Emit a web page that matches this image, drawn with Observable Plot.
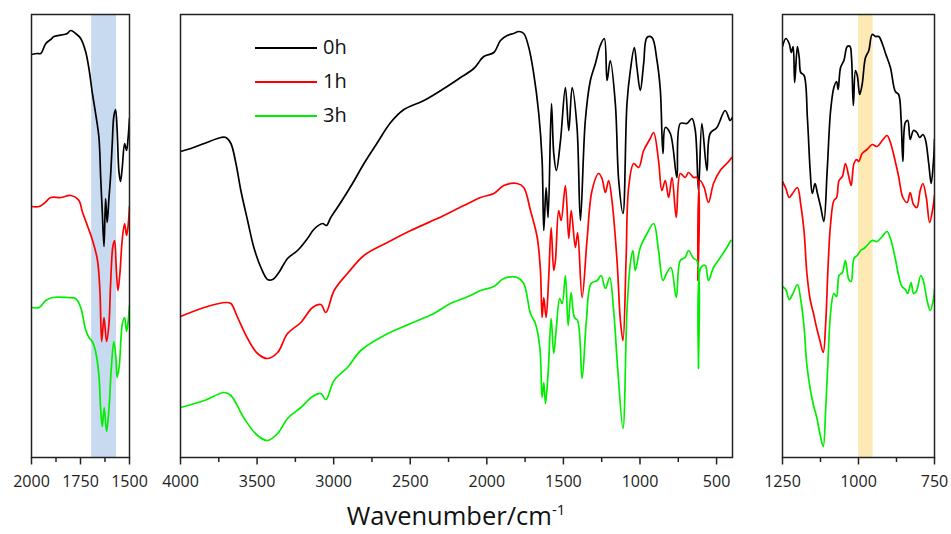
<!DOCTYPE html>
<html><head><meta charset="utf-8">
<script src="https://cdn.jsdelivr.net/npm/d3@7"></script>
<script src="https://cdn.jsdelivr.net/npm/@observablehq/plot@0.6"></script>
<style>
body{margin:0;background:#fff;font-family:"Open Sans",sans-serif;}
#wrap{position:relative;width:951px;height:534px;overflow:hidden;background:#fff;}
.panel{position:absolute;top:0;}
.leg-line{position:absolute;height:2px;width:62px;left:255px;}
.leg-text{position:absolute;left:323px;font-size:20px;line-height:24px;height:24px;color:#111;}
#xtitle{position:absolute;left:0;width:912px;text-align:center;top:500px;font-size:25.5px;line-height:30px;color:#111;}
#xtitle sup{font-size:15px;vertical-align:10px;line-height:0;}
</style></head><body><div id="wrap"></div>
<script>
const series = ["0h", "1h", "3h"];
const colors = ["#000000", "#ff0000", "#00ee00"];
const xTitle = "Wavenumber/cm";
const xTitleSup = "-1";
const leftBand = [1693, 1566];
const rightBand = [1000, 952];
const leftTicks = [2000, 1750, 1500];
const leftMinor = [1875, 1625];
const midTicks = [4000, 3500, 3000, 2500, 2000, 1500, 1000, 500];
const midMinor = [3750, 3250, 2750, 2250, 1750, 1250, 750];
const rightTicks = [1250, 1000, 750];
const rightMinor = [1125, 875];

// middle panel (4000 - 400 cm-1), arbitrary transmittance units
const mid0h = [[4000,306],[3932,309],[3845,314],[3736,320],[3703,320],[3671,314],[3638,294],[3606,267],[3562,237],[3521,210],[3475,190],[3432,178],[3399,178],[3358,185],[3301,199],[3236,207],[3171,219],[3130,228],[3073,234],[3047,232],[3019,240],[2954,255],[2877,274],[2802,294],[2714,315],[2628,335],[2541,348],[2411,357],[2280,369],[2171,380],[2085,389],[2020,401],[1954,405],[1911,417],[1867,422],[1824,424],[1791,426],[1759,424],[1726,410],[1694,384],[1661,344],[1639,297],[1628,227],[1613,270],[1600,240],[1578,354],[1563,304],[1546,287],[1519,317],[1487,370],[1465,327],[1443,370],[1411,330],[1389,237],[1357,337],[1324,377],[1291,394],[1259,412],[1233,419],[1215,377],[1194,397],[1161,354],[1139,277],[1111,244],[1085,354],[1063,387],[1037,410],[1020,390],[998,367],[976,394],[954,420],[922,420],[889,397],[867,367],[850,304],[835,330],[802,324],[759,280],[737,334],[694,334],[661,339],[639,327],[618,267],[596,334],[563,287],[542,324],[498,330],[444,347],[411,337],[398,340]];
const mid1h = [[4000,141],[3845,150],[3703,155],[3671,154],[3627,140],[3562,119],[3497,104],[3432,99],[3366,105],[3301,124],[3214,135],[3138,150],[3084,153],[3051,145],[2997,167],[2910,184],[2802,202],[2649,215],[2497,227],[2323,239],[2150,252],[2041,260],[1954,264],[1889,272],[1802,274],[1759,270],[1715,247],[1671,220],[1650,187],[1639,140],[1628,160],[1613,140],[1596,180],[1580,230],[1563,187],[1552,197],[1531,247],[1515,237],[1487,272],[1465,219],[1449,247],[1422,210],[1407,225],[1378,160],[1346,217],[1313,267],[1270,284],[1248,279],[1226,265],[1205,277],[1183,257],[1150,197],[1128,137],[1111,117],[1091,197],[1074,270],[1041,294],[1009,290],[976,307],[933,319],[911,325],[879,297],[857,267],[835,277],[813,260],[791,280],[763,240],[737,284],[705,280],[683,285],[650,280],[628,280],[622,177],[607,277],[581,270],[553,255],[520,274],[476,287],[433,294],[400,300]];
const mid3h = [[4000,50],[3845,57],[3714,65],[3671,62],[3584,39],[3497,22],[3432,17],[3366,24],[3301,39],[3214,50],[3138,61],[3084,64],[3051,58],[2997,77],[2910,90],[2823,107],[2671,122],[2497,134],[2346,144],[2237,154],[2106,162],[2041,167],[1954,171],[1889,179],[1802,180],[1759,174],[1715,144],[1683,134],[1654,110],[1639,60],[1628,75],[1617,54],[1600,84],[1580,139],[1563,104],[1546,130],[1524,159],[1508,154],[1487,182],[1469,132],[1450,165],[1428,140],[1407,137],[1378,79],[1350,137],[1319,174],[1280,177],[1254,182],[1226,169],[1198,180],[1172,147],[1146,90],[1111,29],[1085,147],[1063,194],[1046,207],[1031,187],[998,210],[954,224],[911,234],[879,207],[850,177],[824,185],[798,190],[763,160],[737,197],[705,200],[683,207],[650,199],[628,197],[618,89],[602,190],[574,192],[553,177],[520,190],[476,200],[433,210],[407,217]];

// left inset (2000 - 1500 cm-1)
const left0h = [[2000,403],[1970,404],[1953,404],[1927,414],[1902,418],[1885,421],[1834,423],[1817,424],[1800,427],[1775,424],[1749,419],[1724,406],[1707,389],[1690,365],[1673,344],[1656,320],[1647,280],[1639,246],[1630,211],[1622,259],[1614,235],[1605,259],[1597,280],[1588,314],[1580,341],[1571,348],[1563,327],[1554,286],[1546,276],[1537,290],[1525,314],[1515,307],[1507,320],[1500,339]];
const left1h = [[2000,251],[1961,251],[1936,254],[1902,260],[1851,260],[1800,262],[1758,257],[1741,246],[1715,232],[1690,218],[1664,198],[1651,167],[1642,116],[1630,140],[1617,116],[1605,133],[1597,171],[1585,211],[1576,217],[1568,191],[1559,167],[1549,184],[1537,218],[1525,234],[1515,222],[1507,232],[1500,251]];
const left3h = [[2000,150],[1961,150],[1927,157],[1893,160],[1817,160],[1775,159],[1749,150],[1724,128],[1707,120],[1690,116],[1673,106],[1656,82],[1647,48],[1639,31],[1629,50],[1617,26],[1605,48],[1593,89],[1580,116],[1569,99],[1563,80],[1552,92],[1537,133],[1525,140],[1515,126],[1507,136],[1500,152]];

// right inset (1250 - 750 cm-1)
const right0h = [[1250,411],[1239,419],[1228,414],[1221,405],[1215,411],[1210,375],[1201,411],[1195,400],[1190,385],[1179,382],[1168,339],[1159,287],[1152,264],[1143,274],[1135,264],[1124,250],[1114,236],[1103,287],[1092,346],[1081,370],[1072,376],[1067,368],[1059,390],[1048,397],[1037,411],[1028,411],[1023,400],[1017,352],[1010,387],[1004,382],[996,363],[988,373],[977,400],[966,407],[955,423],[944,421],[933,421],[922,414],[911,404],[895,390],[879,366],[868,363],[860,339],[854,296],[846,335],[838,337],[830,318],[819,327],[808,325],[799,320],[788,323],[780,318],[769,294],[761,274],[753,298],[750,318]];
const right1h = [[1250,276],[1239,269],[1228,260],[1217,264],[1201,270],[1190,253],[1179,226],[1170,185],[1159,158],[1148,144],[1138,130],[1127,117],[1116,105],[1108,134],[1100,192],[1092,233],[1081,257],[1072,260],[1064,277],[1053,281],[1043,294],[1032,281],[1024,272],[1015,294],[1006,298],[999,296],[988,304],[972,308],[955,313],[939,311],[922,317],[906,322],[895,315],[879,296],[868,281],[854,260],[840,255],[830,265],[819,253],[808,250],[797,267],[788,274],[777,260],[766,235],[755,250],[750,262]];
const right3h = [[1250,171],[1239,168],[1228,158],[1217,163],[1201,173],[1190,158],[1179,130],[1170,93],[1159,69],[1148,52],[1138,41],[1127,24],[1116,11],[1108,48],[1100,99],[1092,144],[1081,164],[1072,161],[1064,182],[1053,185],[1043,197],[1032,178],[1024,176],[1015,199],[1004,202],[993,207],[982,209],[972,212],[955,217],[939,216],[922,221],[906,226],[895,219],[879,199],[868,182],[857,171],[846,168],[838,164],[827,175],[819,164],[810,166],[795,182],[786,176],[775,158],[764,147],[753,159],[750,168]];

const wrap = document.getElementById("wrap");

function toRows(arrs) {
  const rows = [];
  arrs.forEach((arr, i) => arr.forEach(([wn, v]) => rows.push({wn, v, s: series[i]})));
  return rows;
}

function panel({arrs, domain, major, minor, band, bandColor, left, width, ml, mr}) {
  const marks = [];
  if (band) marks.push(Plot.rect([band], {x1: d => d[0], x2: d => d[1], fill: bandColor}));
  marks.push(Plot.line(toRows(arrs), {x: "wn", y: "v", z: "s", stroke: "s", strokeWidth: 1.7, curve: "catmull-rom", clip: true}));
  marks.push(Plot.frame({stroke: "#222", strokeWidth: 1.5}));
  marks.push(Plot.axisX(major, {tickSize: 7.5, tickPadding: 11, stroke: "#222", strokeWidth: 1.5, fill: "#222", label: null, tickFormat: d => String(d)}));
  marks.push(Plot.axisX(minor, {tickSize: 5, stroke: "#222", strokeWidth: 1.5, tickFormat: () => "", label: null}));
  const svg = Plot.plot({
    width, height: 490,
    marginTop: 14, marginBottom: 33, marginLeft: ml, marginRight: mr,
    style: {background: "transparent", overflow: "visible", fontFamily: "'Open Sans', sans-serif", fontSize: "16px", color: "#222"},
    x: {domain, axis: null},
    y: {domain: [0, 443], axis: null},
    color: {domain: series, range: colors},
    marks
  });
  svg.classList.add("panel");
  svg.style.left = left + "px";
  wrap.appendChild(svg);
}

panel({arrs: [left0h, left1h, left3h], domain: [2000, 1500], major: leftTicks, minor: leftMinor,
  band: leftBand, bandColor: "#c7daef", left: 0, width: 160, ml: 31, mr: 31});
panel({arrs: [mid0h, mid1h, mid3h], domain: [4000, 396], major: midTicks, minor: midMinor,
  left: 150, width: 610, ml: 30, mr: 28});
panel({arrs: [right0h, right1h, right3h], domain: [1250, 750], major: rightTicks, minor: rightMinor,
  band: rightBand, bandColor: "#fde9b4", left: 755, width: 196, ml: 27, mr: 17});

// legend
const legendY = [47.7, 81.7, 115.7];
series.forEach((s, i) => {
  const ln = document.createElement("div");
  ln.className = "leg-line";
  ln.style.top = (legendY[i] - 1) + "px";
  ln.style.background = colors[i];
  wrap.appendChild(ln);
  const tx = document.createElement("div");
  tx.className = "leg-text";
  tx.style.top = (legendY[i] - 12.5) + "px";
  tx.textContent = s;
  wrap.appendChild(tx);
});

const title = document.createElement("div");
title.id = "xtitle";
title.innerHTML = xTitle + "<sup>" + xTitleSup + "</sup>";
wrap.appendChild(title);
</script></body></html>
